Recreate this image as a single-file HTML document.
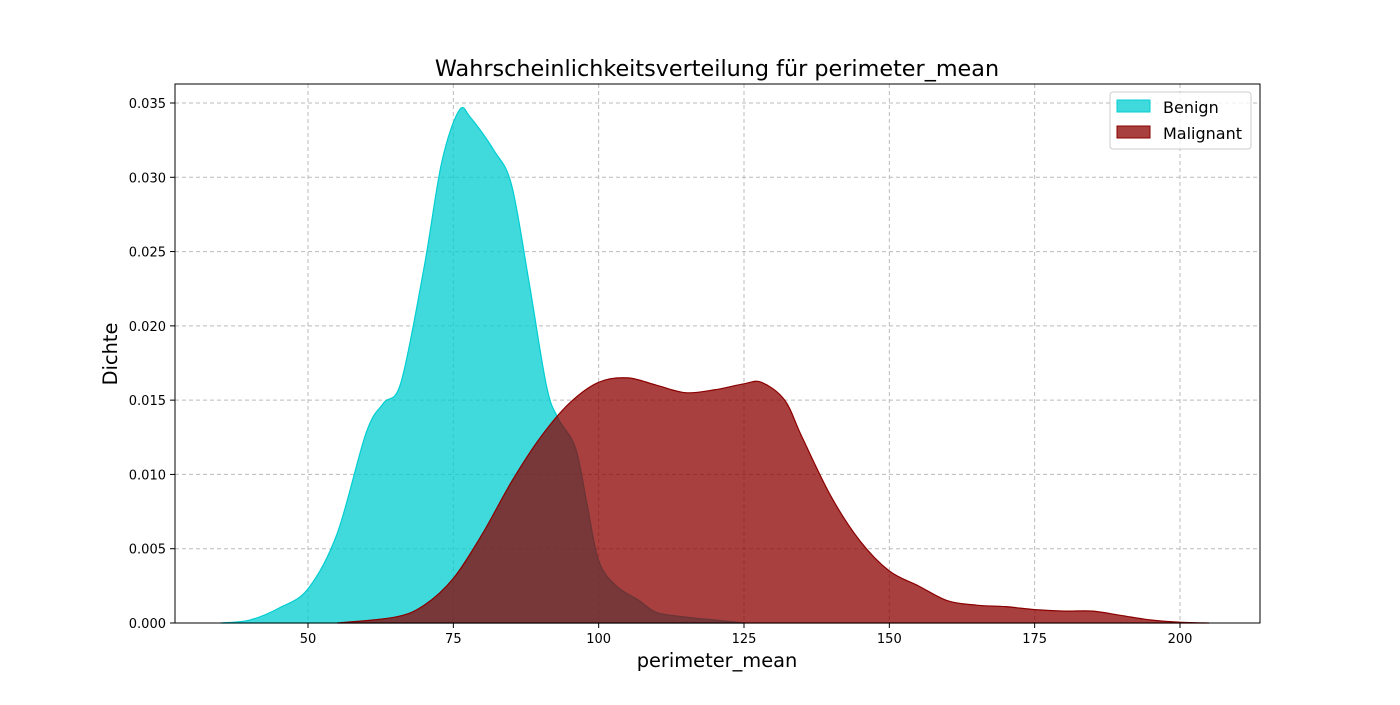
<!DOCTYPE html>
<html><head><meta charset="utf-8"><style>
body{margin:0;background:#fff;font-family:"Liberation Sans","DejaVu Sans",sans-serif}
</style></head><body>
<svg id="chart" width="1400" height="700" viewBox="0 0 1400 700" style="font-family:'DejaVu Sans','Liberation Sans',sans-serif">
<rect width="1400" height="700" fill="#fff"/>
<text x="717" y="76" text-anchor="middle" font-size="22.3">Wahrscheinlichkeitsverteilung für perimeter_mean</text>
<g id="grid"></g>
<g id="series"></g>
<rect x="175" y="84" width="1085" height="539" fill="none" stroke="#000" stroke-width="1"/>
<g id="ticks" font-size="13"></g>
<text x="717" y="667" text-anchor="middle" font-size="19.4">perimeter_mean</text>
<text transform="translate(117,354) rotate(-90)" text-anchor="middle" font-size="19.4">Dichte</text>
<g>
<rect x="1110" y="92" width="141" height="57" rx="3" fill="#fff" fill-opacity="0.8" stroke="#ccc"/>
<g><rect x="1117" y="100" width="33" height="12" fill="rgb(0,206,209)" fill-opacity="0.75" stroke="rgb(0,206,209)"/><text x="1163" y="113" font-size="16">Benign</text></g>
<g><rect x="1117" y="126" width="33" height="12" fill="rgb(139,0,0)" fill-opacity="0.75" stroke="rgb(139,0,0)"/><text x="1163" y="139" font-size="16">Malignant</text></g>
</g>
</svg>
<script>
const xTicks=[50,75,100,125,150,175,200];
const yTicks=[0,0.005,0.010,0.015,0.020,0.025,0.030,0.035];
const yTickLabels=["0.000","0.005","0.010","0.015","0.020","0.025","0.030","0.035"];
const benignX=[35,40,45,50,55,60,63,66,70,73,76,78,82,85,88,91,93,96,98,100,103,107,110,115,120,125];
const benignY=[0,0.0002,0.001,0.0023,0.006,0.0128,0.0148,0.0162,0.024,0.031,0.0345,0.0340,0.0318,0.0295,0.023,0.016,0.0138,0.0118,0.008,0.0042,0.0025,0.0015,0.0007,0.0004,0.0002,0];
const malX=[55,65,70,75,80,85,90,95,100,105,110,115,120,125,128,132,135,140,145,150,155,160,165,170,175,180,185,190,195,200,205];
const malY=[0,0.0004,0.0012,0.003,0.006,0.0095,0.0125,0.0148,0.0162,0.0165,0.016,0.0155,0.0157,0.0161,0.0162,0.015,0.0125,0.0085,0.0055,0.0035,0.0025,0.0015,0.0012,0.0011,0.0009,0.0008,0.0008,0.0005,0.0002,0.00005,0];
const sx=v=>308+(v-50)*(1180-308)/150;
const sy=v=>623-v*520/0.035;
const NS="http://www.w3.org/2000/svg";
function mk(t,a,p){const e=document.createElementNS(NS,t);for(const k in a)e.setAttribute(k,a[k]);p.appendChild(e);return e;}
const grid=document.getElementById('grid'),ticks=document.getElementById('ticks'),ser=document.getElementById('series');
xTicks.forEach(v=>{const x=sx(v);
 const l=mk('line',{x1:x,x2:x,y1:84,y2:623,stroke:'#bbb','stroke-dasharray':'4,3'},grid);
 
 
 mk('line',{x1:x,x2:x,y1:623,y2:628,stroke:'#000'},ticks);
 const t=mk('text',{x:x,y:643,'text-anchor':'middle'},ticks);t.textContent=v;
 
 });
yTicks.forEach((v,i)=>{const y=sy(v);
 const l=mk('line',{x1:175,x2:1260,y1:y,y2:y,stroke:'#bbb','stroke-dasharray':'4,3'},grid);
 
 
 mk('line',{x1:170,x2:175,y1:y,y2:y,stroke:'#000'},ticks);
 const t=mk('text',{x:166,y:y+5,'text-anchor':'end'},ticks);t.textContent=yTickLabels[i];
 
 });
function path(xs,ys){const P=xs.map((x,i)=>[sx(x),sy(ys[i])]);let d='M'+P[0][0]+','+P[0][1];
 for(let i=0;i<P.length-1;i++){const p0=P[i-1]||P[i],p1=P[i],p2=P[i+1],p3=P[i+2]||p2;
  const c1=[p1[0]+(p2[0]-p0[0])/6,p1[1]+(p2[1]-p0[1])/6],c2=[p2[0]-(p3[0]-p1[0])/6,p2[1]-(p3[1]-p1[1])/6];
  d+=` C${c1[0]},${Math.min(623,c1[1])} ${c2[0]},${Math.min(623,c2[1])} ${p2[0]},${p2[1]}`;}
 return d;}
const b=mk('path',{d:path(benignX,benignY)+'Z',fill:'rgb(0,206,209)','fill-opacity':0.75,stroke:'rgb(0,206,209)','stroke-width':1.2},ser);


const m=mk('path',{d:path(malX,malY)+'Z',fill:'rgb(139,0,0)','fill-opacity':0.75,stroke:'rgb(139,0,0)','stroke-width':1.2},ser);


</script>
</body></html>
